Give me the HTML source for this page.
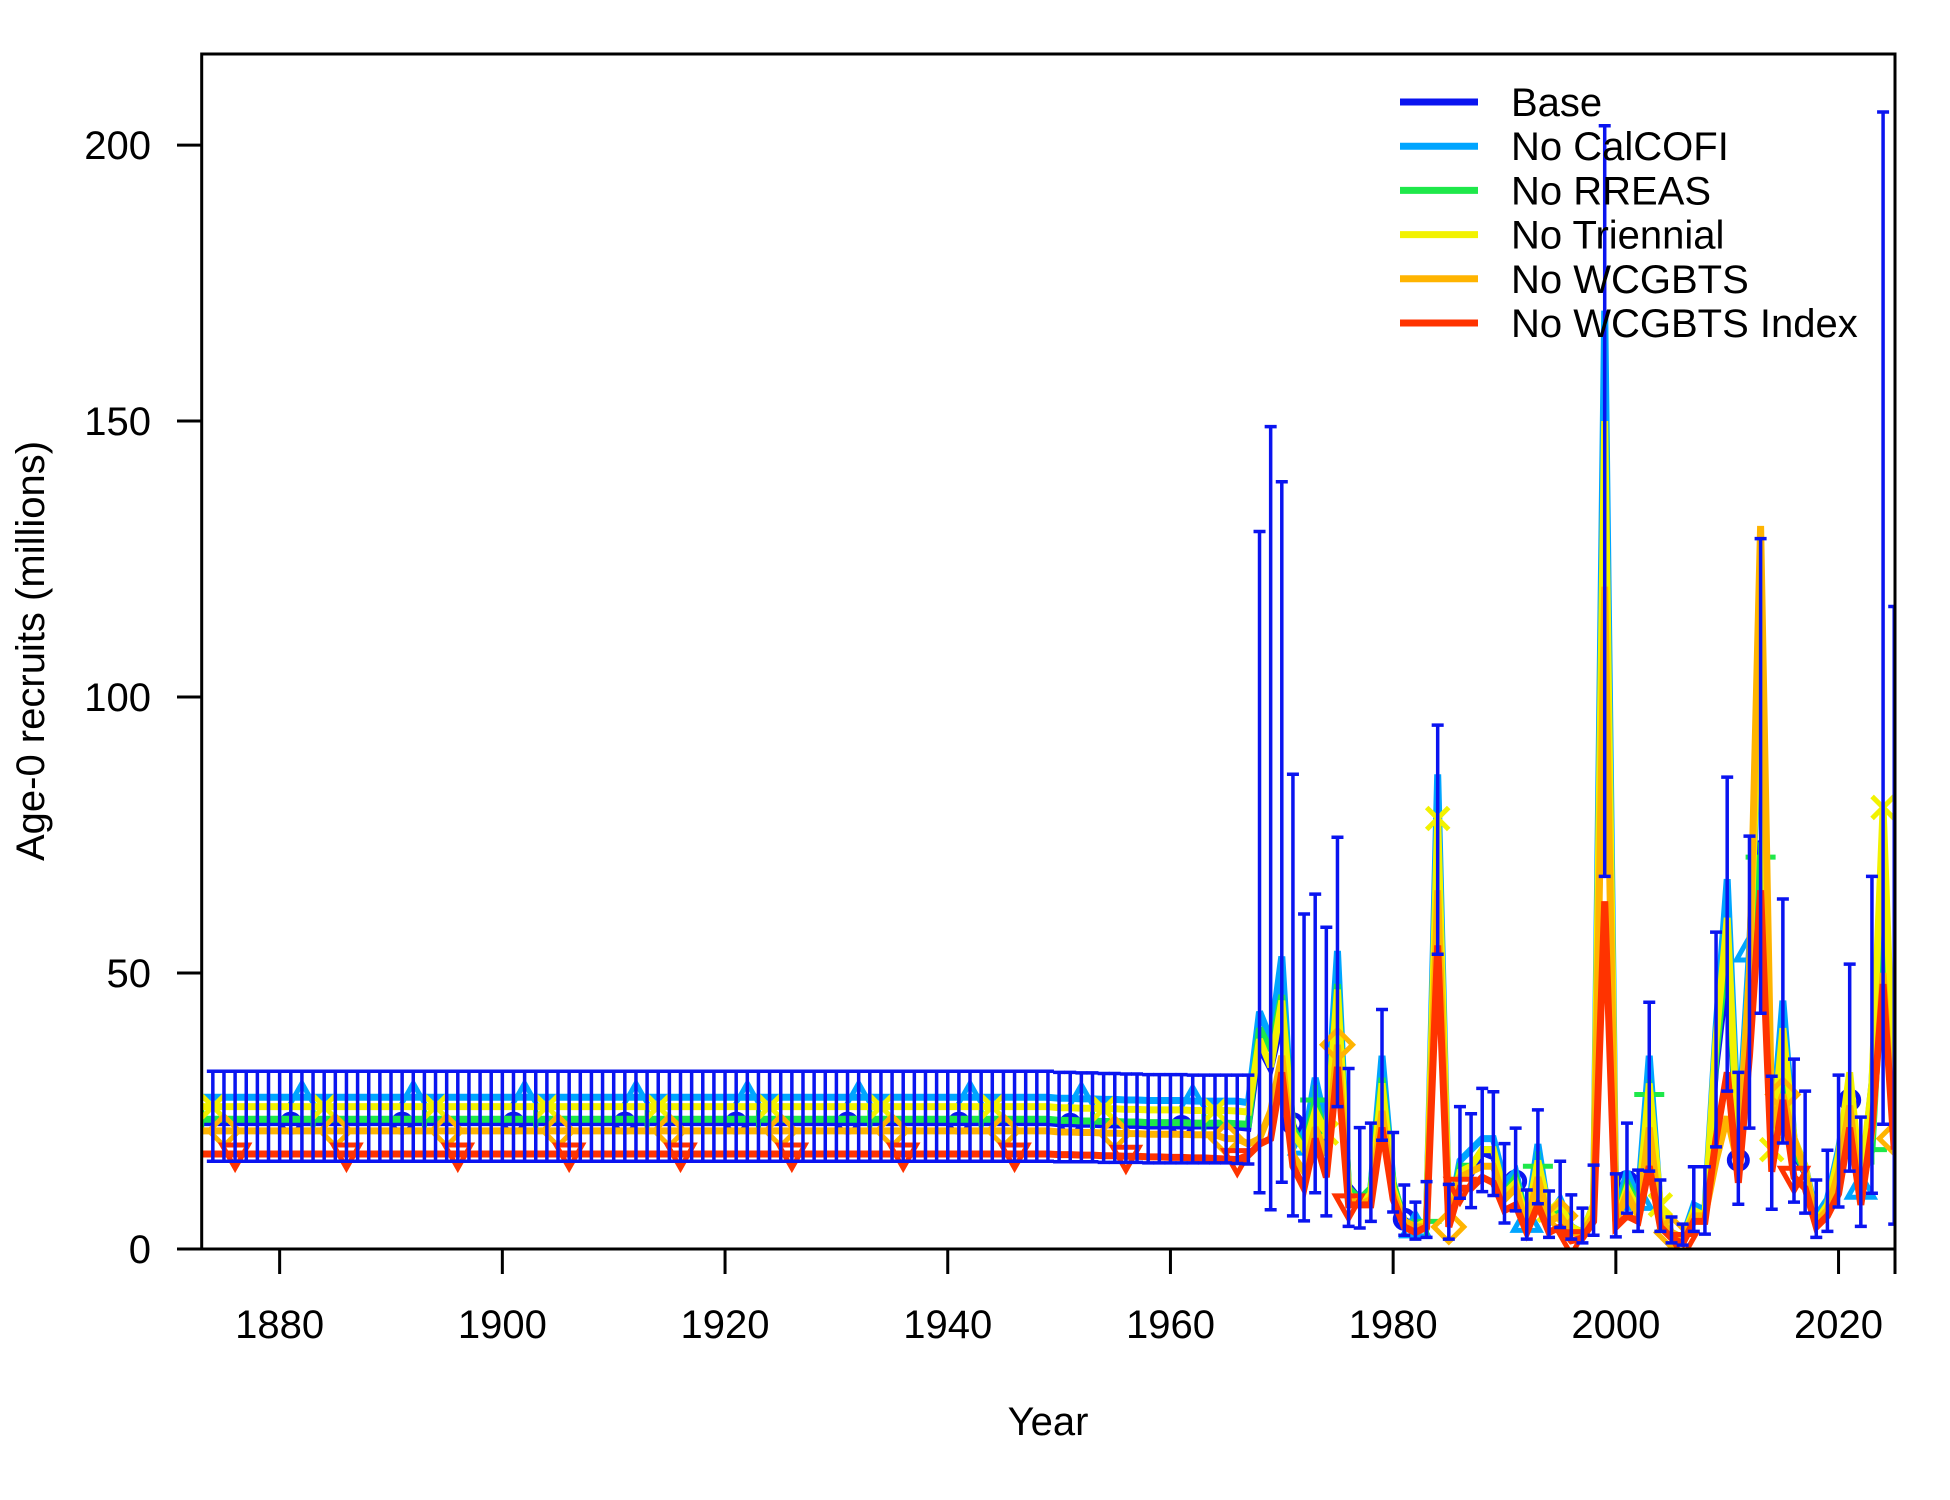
<!DOCTYPE html>
<html><head><meta charset="utf-8"><title>Age-0 recruits</title>
<style>
html,body{margin:0;padding:0;background:#fff;}
svg{display:block;font-family:"Liberation Sans",Arial,sans-serif;}
</style></head>
<body>
<svg id="chart" width="1950" height="1500" viewBox="0 0 1950 1500" xmlns="http://www.w3.org/2000/svg">
<defs><clipPath id="plotclip"><rect x="201.7" y="54" width="1693.3" height="1195"/></clipPath></defs>
<g id="plot" clip-path="url(#plotclip)"></g>
<g id="axes"></g>
<g id="legend"></g>
</svg>
<script>
const startYear = 1873;
const endYear = 2025;
const yTicks = [0, 50, 100, 150, 200];
const xTicks = [1880, 1900, 1920, 1940, 1960, 1980, 2000, 2020];
const seriesNames = ["Base", "No CalCOFI", "No RREAS", "No Triennial", "No WCGBTS", "No WCGBTS Index"];

const baseVals = [
22.8,22.8,22.8,22.8,22.8,22.8,22.8,22.8,22.8,22.8,22.8,22.8,22.8,22.8,22.8,22.8,22.8,22.8,22.8,22.8,22.8,22.8,22.8,
22.8,22.8,22.8,22.8,22.8,22.8,22.8,22.8,22.8,22.8,22.8,22.8,22.8,22.8,22.8,22.8,22.8,22.8,22.8,22.8,22.8,22.8,22.8,
22.8,22.8,22.8,22.8,22.8,22.8,22.8,22.8,22.8,22.8,22.8,22.8,22.8,22.8,22.8,22.8,22.8,22.8,22.8,22.8,22.8,22.8,22.8,
22.8,22.8,22.8,22.8,22.8,22.8,22.8,22.8,22.6,22.6,22.5,22.5,22.4,22.4,22.3,22.3,22.2,22.2,22.2,22.2,22.2,22.2,22.2,
22.2,22.0,21.8,36.4,32.5,41,22.7,17.6,25.6,18.7,
43.9,11.6,9.1,10.7,29.2,11.9,5.4,3.9,5.1,71.2,
4.6,15.4,13.5,17.4,16.6,9.5,12.3,4.4,14.4,4.7,
7.9,4.2,2.9,6.2,117,5.5,12.2,6.8,25,6.3,
2.5,1.8,6.9,6.3,32.6,49.4,16.1,40.5,74,15,
35,17.1,13.6,5.1,7.6,15.5,27,9.9,26.1,68,23];

const baseUpper = [
32.2,32.2,32.2,32.2,32.2,32.2,32.2,32.2,32.2,32.2,32.2,32.2,32.2,32.2,32.2,32.2,32.2,32.2,32.2,32.2,32.2,32.2,32.2,
32.2,32.2,32.2,32.2,32.2,32.2,32.2,32.2,32.2,32.2,32.2,32.2,32.2,32.2,32.2,32.2,32.2,32.2,32.2,32.2,32.2,32.2,32.2,
32.2,32.2,32.2,32.2,32.2,32.2,32.2,32.2,32.2,32.2,32.2,32.2,32.2,32.2,32.2,32.2,32.2,32.2,32.2,32.2,32.2,32.2,32.2,
32.2,32.2,32.2,32.2,32.2,32.2,32.2,32.2,32.0,32.0,31.9,31.9,31.8,31.8,31.7,31.7,31.6,31.6,31.6,31.6,31.5,31.5,31.5,
31.5,31.5,31.5,130,149,139,86,60.7,64.3,58.3,
74.6,32.7,22,22.8,43.4,21.1,11.6,8.5,12.2,94.9,
11.7,25.8,24.5,29.1,28.5,19.1,21.9,10.7,25.2,10.5,
15.9,9.8,7.4,15.2,203.5,13.6,22.8,14.3,44.7,12.5,
5.8,4.5,14.9,14.9,57.4,85.5,32,74.8,128.7,31.3,
63.4,34.4,28.6,12.5,17.9,31.5,51.6,23.9,67.5,206,116.4];

const baseLower = [
15.9,15.9,15.9,15.9,15.9,15.9,15.9,15.9,15.9,15.9,15.9,15.9,15.9,15.9,15.9,15.9,15.9,15.9,15.9,15.9,15.9,15.9,15.9,
15.9,15.9,15.9,15.9,15.9,15.9,15.9,15.9,15.9,15.9,15.9,15.9,15.9,15.9,15.9,15.9,15.9,15.9,15.9,15.9,15.9,15.9,15.9,
15.9,15.9,15.9,15.9,15.9,15.9,15.9,15.9,15.9,15.9,15.9,15.9,15.9,15.9,15.9,15.9,15.9,15.9,15.9,15.9,15.9,15.9,15.9,
15.9,15.9,15.9,15.9,15.9,15.9,15.9,15.9,15.8,15.8,15.8,15.8,15.7,15.7,15.7,15.7,15.6,15.6,15.6,15.6,15.6,15.6,15.6,
15.6,15.5,15.4,10.2,7.1,12.1,6,5.1,10.2,6,
25.8,4.1,3.8,5,19.7,6.7,2.5,1.8,2.1,53.4,
1.8,9.2,7.5,10.4,9.7,4.7,6.9,1.8,8.2,2.1,
3.9,1.8,1.1,2.5,67.5,2.2,6.5,3.2,14.1,3.2,
1.1,0.7,3.2,2.7,18.5,28.6,8.1,21.9,42.7,7.2,
19.2,8.5,6.5,2.1,3.2,7.6,14.1,4.1,10.1,22.6,4.5];

const calcofiVals = [
27.5,27.5,27.5,27.5,27.5,27.5,27.5,27.5,27.5,27.5,27.5,27.5,27.5,27.5,27.5,27.5,27.5,27.5,27.5,27.5,27.5,27.5,27.5,
27.5,27.5,27.5,27.5,27.5,27.5,27.5,27.5,27.5,27.5,27.5,27.5,27.5,27.5,27.5,27.5,27.5,27.5,27.5,27.5,27.5,27.5,27.5,
27.5,27.5,27.5,27.5,27.5,27.5,27.5,27.5,27.5,27.5,27.5,27.5,27.5,27.5,27.5,27.5,27.5,27.5,27.5,27.5,27.5,27.5,27.5,
27.5,27.5,27.5,27.5,27.5,27.5,27.5,27.5,27.3,27.3,27.2,27.2,27.1,27.1,27.0,27.0,26.9,26.9,26.9,26.9,26.8,26.8,26.8,
26.8,26.8,26.5,43,38,53,20,19,31,22,
54,10,8,11,35,12,5,4,5,86,
5,16,18,20,20,12,14,5,19,6,
9,4,3,8,170,6,14,9,35,7,
3,2,8,7,40,67,20,54,100,20,
45,20,15,6,9,18,30,11,30,70,25];

const rreasVals = [
23.5,23.5,23.5,23.5,23.5,23.5,23.5,23.5,23.5,23.5,23.5,23.5,23.5,23.5,23.5,23.5,23.5,23.5,23.5,23.5,23.5,23.5,23.5,
23.5,23.5,23.5,23.5,23.5,23.5,23.5,23.5,23.5,23.5,23.5,23.5,23.5,23.5,23.5,23.5,23.5,23.5,23.5,23.5,23.5,23.5,23.5,
23.5,23.5,23.5,23.5,23.5,23.5,23.5,23.5,23.5,23.5,23.5,23.5,23.5,23.5,23.5,23.5,23.5,23.5,23.5,23.5,23.5,23.5,23.5,
23.5,23.5,23.5,23.5,23.5,23.5,23.5,23.5,23.3,23.3,23.2,23.2,23.1,23.1,23.0,23.0,22.9,22.9,22.9,22.9,22.8,22.8,22.8,
22.8,22.7,22.6,40,36,46,22,18,27,20,
48,11,9,11,31,12,5,4,5,75,
5,15,15,18,18,10,13,5,15,5,
8,4,3,7,140,5,12,8,28,6,
3,2,7,6,35,55,17,45,71,16,
38,18,14,5,8,16,28,12,18,55,22];

const triennialVals = [
25.8,25.8,25.8,25.8,25.8,25.8,25.8,25.8,25.8,25.8,25.8,25.8,25.8,25.8,25.8,25.8,25.8,25.8,25.8,25.8,25.8,25.8,25.8,
25.8,25.8,25.8,25.8,25.8,25.8,25.8,25.8,25.8,25.8,25.8,25.8,25.8,25.8,25.8,25.8,25.8,25.8,25.8,25.8,25.8,25.8,25.8,
25.8,25.8,25.8,25.8,25.8,25.8,25.8,25.8,25.8,25.8,25.8,25.8,25.8,25.8,25.8,25.8,25.8,25.8,25.8,25.8,25.8,25.8,25.8,
25.8,25.8,25.8,25.8,25.8,25.8,25.8,25.8,25.6,25.6,25.5,25.5,25.4,25.4,25.3,25.3,25.2,25.2,25.2,25.2,25.1,25.1,25.1,
25.1,25.0,24.8,38,33,45,21,18,25,21,
47,10,8,10,30,11,5,4,5,78,
5,14,15,18,18,10,12,5,16,7,
8,4,3,8,150,5,11,7,30,8,
3,2,7,6,38,60,17,50,110,18,
40,20,15,5,8,17,32,12,30,80,25];

const wcgbtsVals = [
21.4,21.4,21.4,21.4,21.4,21.4,21.4,21.4,21.4,21.4,21.4,21.4,21.4,21.4,21.4,21.4,21.4,21.4,21.4,21.4,21.4,21.4,21.4,
21.4,21.4,21.4,21.4,21.4,21.4,21.4,21.4,21.4,21.4,21.4,21.4,21.4,21.4,21.4,21.4,21.4,21.4,21.4,21.4,21.4,21.4,21.4,
21.4,21.4,21.4,21.4,21.4,21.4,21.4,21.4,21.4,21.4,21.4,21.4,21.4,21.4,21.4,21.4,21.4,21.4,21.4,21.4,21.4,21.4,21.4,
21.4,21.4,21.4,21.4,21.4,21.4,21.4,21.4,21.2,21.2,21.1,21.1,21.0,21.0,20.9,20.9,20.8,20.8,20.8,20.8,20.7,20.7,20.7,
20,20,19,20,25,35,17,14,22,17,
37,9,8,9,25,10,5,4,4,65,
4,13,14,15,15,9,11,4,13,5,
6,3,3,6,120,5,10,6,22,5,
3,2,6,6,16,24,15,50,131,22,
28,20,14,5,7,14,26,9,21,50,20];

const indexVals = [
17.2,17.2,17.2,17.2,17.2,17.2,17.2,17.2,17.2,17.2,17.2,17.2,17.2,17.2,17.2,17.2,17.2,17.2,17.2,17.2,17.2,17.2,17.2,
17.2,17.2,17.2,17.2,17.2,17.2,17.2,17.2,17.2,17.2,17.2,17.2,17.2,17.2,17.2,17.2,17.2,17.2,17.2,17.2,17.2,17.2,17.2,
17.2,17.2,17.2,17.2,17.2,17.2,17.2,17.2,17.2,17.2,17.2,17.2,17.2,17.2,17.2,17.2,17.2,17.2,17.2,17.2,17.2,17.2,17.2,
17.2,17.2,17.2,17.2,17.2,17.2,17.2,17.2,17.1,17.1,17.0,17.0,16.9,16.9,16.8,16.8,16.7,16.7,16.6,16.6,16.5,16.5,16.4,
16.3,16.2,17,19,20,32,15,11,20,13,
33,8,8,8,22,9,4,3,4,55,
4,11,11,13,12,7,8,3,8,3,
4,1.5,2,5,63,4,6,5,15,4,
2,1,5,5,20,32,12,35,65,14,
27,13,11,4,6,10,22,8,22,48,18];

const NS = "http://www.w3.org/2000/svg";
const PL = 201.7, PR = 1895, PT = 54, PB = 1249;
const X0 = 1873, X1 = 2025.07, YMAX = 216.5;
function xs(yr){ return PL + (yr - X0) / (X1 - X0) * (PR - PL); }
function ys(v){ return PB - v / YMAX * (PB - PT); }
function mk(tag, attrs, parent){
  const e = document.createElementNS(NS, tag);
  for (const k in attrs) e.setAttribute(k, attrs[k]);
  parent.appendChild(e);
  return e;
}
const plot = document.getElementById('plot');
const axes = document.getElementById('axes');
const legend = document.getElementById('legend');

const seriesList = [
  {vals: baseVals, color: "#0a14f0", pch: "circle", off: 1, w: 6},
  {vals: calcofiVals, color: "#00a5ff", pch: "tri", off: 2, w: 7},
  {vals: rreasVals, color: "#1ee84a", pch: "plus", off: 3, w: 7},
  {vals: triennialVals, color: "#f2f200", pch: "x", off: 4, w: 7},
  {vals: wcgbtsVals, color: "#ffb400", pch: "diamond", off: 5, w: 7},
  {vals: indexVals, color: "#ff3300", pch: "dtri", off: 6, w: 7}
];

function drawMarker(g, type, cx, cy, color){
  const sw = 5;
  let el;
  if (type === "circle") el = mk('circle', {cx, cy, r: 9, fill: 'none', stroke: color, 'stroke-width': sw}, g);
  else if (type === "tri") el = mk('polygon', {points: `${cx},${cy-14} ${cx-13},${cy+9} ${cx+13},${cy+9}`, fill: 'none', stroke: color, 'stroke-width': sw}, g);
  else if (type === "dtri") el = mk('polygon', {points: `${cx},${cy+14} ${cx-13},${cy-9} ${cx+13},${cy-9}`, fill: 'none', stroke: color, 'stroke-width': sw}, g);
  else if (type === "diamond") el = mk('polygon', {points: `${cx},${cy-15} ${cx+15},${cy} ${cx},${cy+15} ${cx-15},${cy}`, fill: 'none', stroke: color, 'stroke-width': sw}, g);
  else if (type === "plus") el = mk('path', {d: `M${cx-15},${cy}H${cx+15}M${cx},${cy-15}V${cy+15}`, stroke: color, 'stroke-width': sw}, g);
  else el = mk('path', {d: `M${cx-11},${cy-11}L${cx+11},${cy+11}M${cx-11},${cy+11}L${cx+11},${cy-11}`, stroke: color, 'stroke-width': sw}, g);
  
  
}

seriesList.forEach((s, si) => {
  const g = mk('g', {}, plot);
  
  
  let d = '';
  s.vals.forEach((v, i) => { d += (i ? 'L' : 'M') + xs(startYear + i).toFixed(2) + ',' + ys(v).toFixed(2); });
  const line = mk('path', {d, fill: 'none', stroke: s.color, 'stroke-width': s.w, 'stroke-linejoin': 'miter', 'stroke-miterlimit': 3}, g);
  
  
  s.vals.forEach((v, i) => {
    const yr = startYear + i;
    if ((yr - s.off) % 10 === 0) drawMarker(g, s.pch, xs(yr), ys(v), s.color);
  });
});

const eb = mk('g', {}, plot);


baseUpper.forEach((u, i) => {
  const yr = startYear + i;
  if (yr < 1874) return;
  const x = xs(yr), y1 = ys(u), y2 = ys(baseLower[i]);
  const p = mk('path', {d: `M${x},${y1}V${y2}M${x-6},${y1}H${x+6}M${x-6},${y2}H${x+6}`, stroke: '#0a14f0', 'stroke-width': 3.5, fill: 'none'}, eb);
  
  
});

const box = mk('rect', {x: PL, y: PT, width: PR - PL, height: PB - PT, fill: 'none', stroke: '#000', 'stroke-width': 3}, axes);



yTicks.forEach(t => {
  const y = ys(t);
  const tk = mk('line', {x1: 177, x2: PL, y1: y, y2: y, stroke: '#000', 'stroke-width': 3}, axes);
  
  
  const tx = mk('text', {x: 151, y: y + 14, 'text-anchor': 'end', 'font-size': 40, fill: '#000'}, axes);
  tx.textContent = String(t);
  
  
});
xTicks.forEach(t => {
  const x = xs(t);
  const tk = mk('line', {x1: x, x2: x, y1: PB, y2: PB + 25, stroke: '#000', 'stroke-width': 3}, axes);
  
  
  const tx = mk('text', {x, y: 1338, 'text-anchor': 'middle', 'font-size': 40, fill: '#000'}, axes);
  tx.textContent = String(t);
  
  
});
const xEnd = mk('line', {x1: PR, x2: PR, y1: PB, y2: PB + 25, stroke: '#000', 'stroke-width': 3}, axes);



const xt = mk('text', {x: 1048, y: 1435, 'text-anchor': 'middle', 'font-size': 40, fill: '#000'}, axes);
xt.textContent = 'Year';


const yt = mk('text', {x: 0, y: 0, 'text-anchor': 'middle', 'font-size': 40, fill: '#000', transform: 'translate(44,651) rotate(-90)'}, axes);
yt.textContent = 'Age-0 recruits (millions)';



seriesNames.forEach((n, i) => {
  const y = 102 + i * 44.2;
  const g = mk('g', {}, legend);
  
  
  mk('line', {x1: 1400, x2: 1478, y1: y, y2: y, stroke: seriesList[i].color, 'stroke-width': 7}, g);
  const t = mk('text', {x: 1511, y: y + 14, 'font-size': 40, fill: '#000'}, g);
  t.textContent = n;
});
</script>
</body></html>
